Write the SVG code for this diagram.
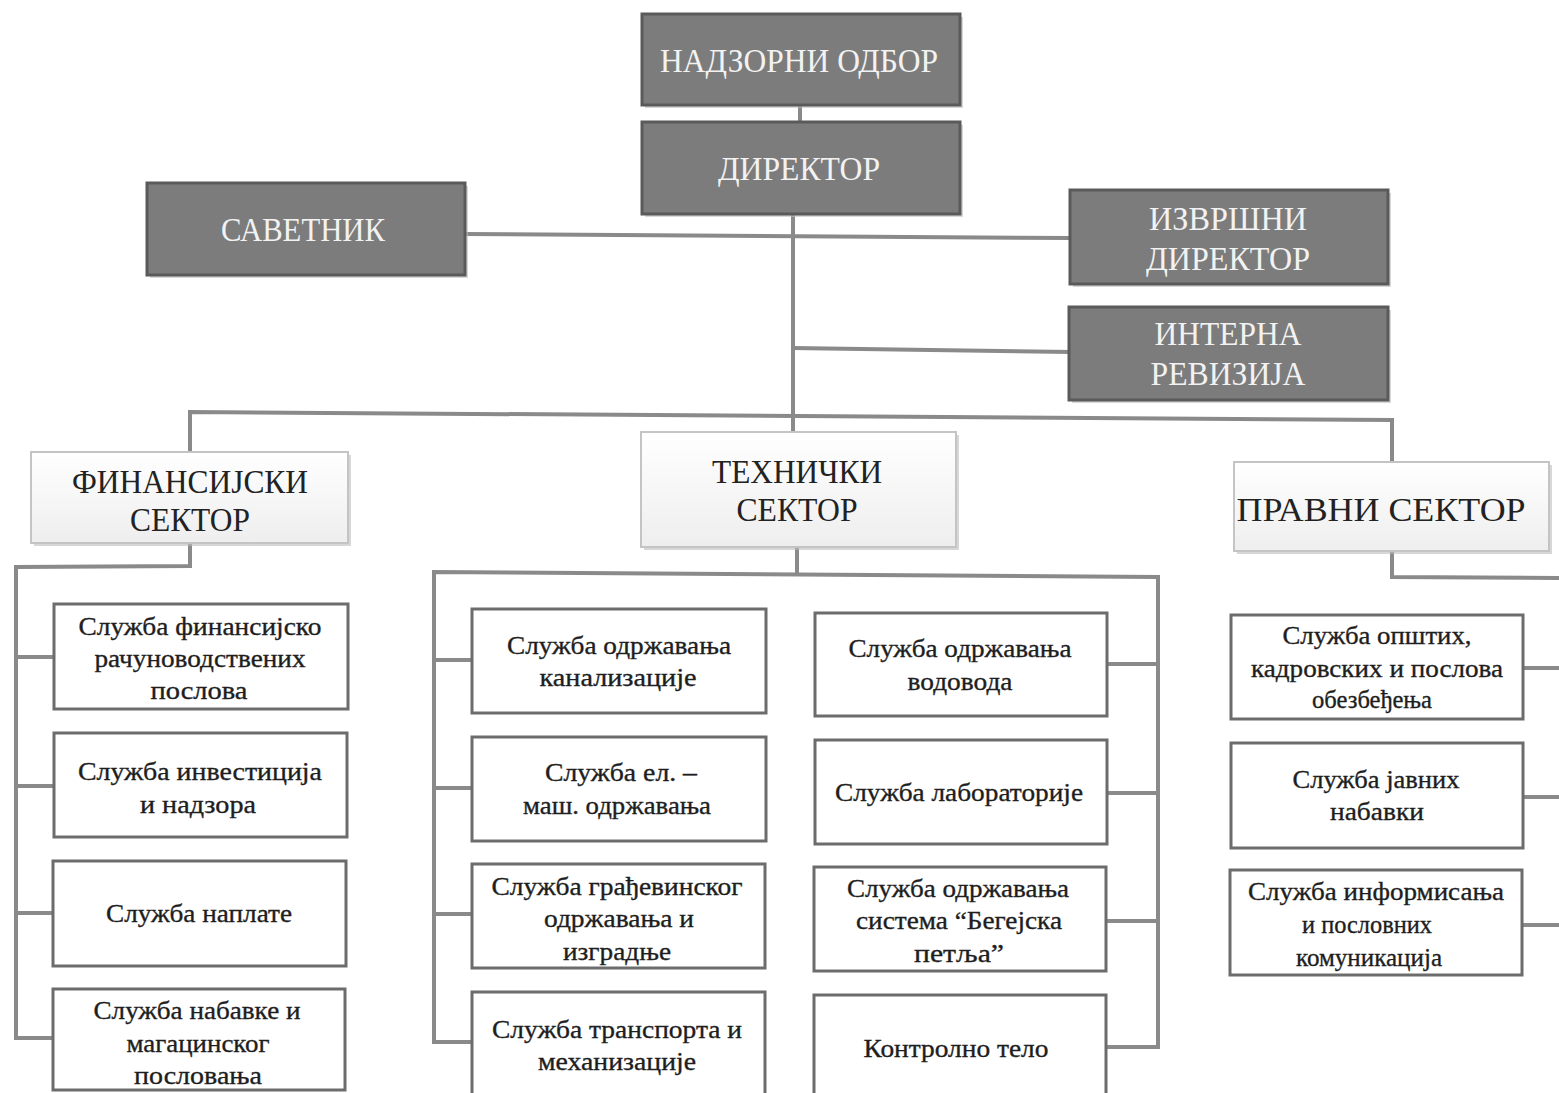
<svg xmlns="http://www.w3.org/2000/svg" width="1559" height="1093" viewBox="0 0 1559 1093">
<style>
.bg{fill:#ffffff}
.top rect.b{fill:#7c7c7c;stroke:#5a5a5a;stroke-width:3}
.top text{fill:#f2f2f2;font-family:"Liberation Serif","Times New Roman",serif;font-size:34px;text-anchor:middle}
.sec rect.b{fill:url(#secg);stroke:#c4c4c4;stroke-width:2}
.sec text{fill:#222;font-family:"Liberation Serif","Times New Roman",serif;font-size:34px;text-anchor:middle}
.svc rect.b{fill:#ffffff;stroke:#6c6c6c;stroke-width:3}
.svc text{fill:#1e1e1e;font-family:"Liberation Serif","Times New Roman",serif;font-size:26px;text-anchor:middle;stroke:#1e1e1e;stroke-width:0.35}
rect.sh{fill:#bdbdbd;opacity:0.6}
#connectors line,#connectors polyline{stroke:#8a8a8a;stroke-width:4;fill:none;stroke-linecap:square}
</style>
<defs>
<linearGradient id="secg" x1="0" y1="0" x2="0" y2="1">
<stop offset="0" stop-color="#ffffff"/>
<stop offset="1" stop-color="#eeeeee"/>
</linearGradient>
</defs>
<rect class="bg" x="0" y="0" width="1559" height="1093"/>

<g id="connectors">
<line x1="800" y1="105" x2="800" y2="122"/>
<line x1="793" y1="214" x2="793" y2="433"/>
<line x1="465" y1="234" x2="1070" y2="238"/>
<line x1="793" y1="348" x2="1069" y2="352"/>
<polyline points="190,452 190,412 1392,420 1392,462"/>
<polyline points="190,543 190,566 16,567 16,1038"/>
<line x1="16" y1="657" x2="54" y2="657"/>
<line x1="16" y1="786" x2="54" y2="786"/>
<line x1="16" y1="913" x2="53" y2="913"/>
<line x1="16" y1="1038" x2="53" y2="1038"/>
<line x1="797" y1="547" x2="797" y2="574"/>
<polyline points="434,1042 434,572 1158,577 1158,1047"/>
<line x1="434" y1="660" x2="472" y2="660"/>
<line x1="434" y1="788" x2="472" y2="788"/>
<line x1="434" y1="914" x2="472" y2="914"/>
<line x1="434" y1="1042" x2="472" y2="1042"/>
<line x1="1107" y1="664" x2="1158" y2="664"/>
<line x1="1107" y1="793" x2="1158" y2="793"/>
<line x1="1107" y1="921" x2="1158" y2="921"/>
<line x1="1107" y1="1047" x2="1158" y2="1047"/>
<polyline points="1392,551 1392,577 1561,578"/>
<line x1="1523" y1="668" x2="1561" y2="668"/>
<line x1="1523" y1="797" x2="1561" y2="797"/>
<line x1="1523" y1="925" x2="1561" y2="925"/>
</g>

<g id="nadzorni-odbor" class="top">
<rect class="sh" x="645" y="17" width="318" height="91"/>
<rect class="b" x="642" y="14" width="318" height="91"/>
<text x="799" y="72" textLength="278" lengthAdjust="spacingAndGlyphs">НАДЗОРНИ ОДБОР</text>
</g>
<g id="direktor" class="top">
<rect class="sh" x="645" y="125" width="318" height="92"/>
<rect class="b" x="642" y="122" width="318" height="92"/>
<text x="799" y="180" textLength="162" lengthAdjust="spacingAndGlyphs">ДИРЕКТОР</text>
</g>
<g id="savetnik" class="top">
<rect class="sh" x="150" y="186" width="318" height="92"/>
<rect class="b" x="147" y="183" width="318" height="92"/>
<text x="303" y="241" textLength="164" lengthAdjust="spacingAndGlyphs">САВЕТНИК</text>
</g>
<g id="izvrsni-direktor" class="top">
<rect class="sh" x="1073" y="193" width="318" height="94"/>
<rect class="b" x="1070" y="190" width="318" height="94"/>
<text x="1228" y="230" textLength="158" lengthAdjust="spacingAndGlyphs">ИЗВРШНИ</text>
<text x="1228" y="270" textLength="164" lengthAdjust="spacingAndGlyphs">ДИРЕКТОР</text>
</g>
<g id="interna-revizija" class="top">
<rect class="sh" x="1072" y="310" width="319" height="93"/>
<rect class="b" x="1069" y="307" width="319" height="93"/>
<text x="1228" y="345" textLength="147" lengthAdjust="spacingAndGlyphs">ИНТЕРНА</text>
<text x="1228" y="385" textLength="155" lengthAdjust="spacingAndGlyphs">РЕВИЗИЈА</text>
</g>

<g id="finansijski-sektor" class="sec">
<rect class="sh" x="34" y="455" width="317" height="91"/>
<rect class="b" x="31" y="452" width="317" height="91"/>
<text x="190" y="493" textLength="236" lengthAdjust="spacingAndGlyphs">ФИНАНСИЈСКИ</text>
<text x="190" y="531" textLength="120" lengthAdjust="spacingAndGlyphs">СЕКТОР</text>
</g>
<g id="tehnicki-sektor" class="sec">
<rect class="sh" x="644" y="435" width="315" height="115"/>
<rect class="b" x="641" y="432" width="315" height="115"/>
<text x="797" y="483" textLength="170" lengthAdjust="spacingAndGlyphs">ТЕХНИЧКИ</text>
<text x="797" y="521" textLength="121" lengthAdjust="spacingAndGlyphs">СЕКТОР</text>
</g>
<g id="pravni-sektor" class="sec">
<rect class="sh" x="1237" y="465" width="315" height="89"/>
<rect class="b" x="1234" y="462" width="315" height="89"/>
<text x="1381" y="521" textLength="289" lengthAdjust="spacingAndGlyphs">ПРАВНИ СЕКТОР</text>
</g>

<g id="fin-1" class="svc">
<rect class="b" x="54" y="604" width="294" height="105"/>
<text x="200" y="635" textLength="243" lengthAdjust="spacingAndGlyphs">Служба финансијско</text>
<text x="200" y="667" textLength="211" lengthAdjust="spacingAndGlyphs">рачуноводствених</text>
<text x="199" y="699" textLength="97" lengthAdjust="spacingAndGlyphs">послова</text>
</g>
<g id="fin-2" class="svc">
<rect class="b" x="54" y="733" width="293" height="104"/>
<text x="200" y="780" textLength="244" lengthAdjust="spacingAndGlyphs">Служба инвестиција</text>
<text x="198" y="813" textLength="116" lengthAdjust="spacingAndGlyphs">и надзора</text>
</g>
<g id="fin-3" class="svc">
<rect class="b" x="53" y="861" width="293" height="105"/>
<text x="199" y="922" textLength="186" lengthAdjust="spacingAndGlyphs">Служба наплате</text>
</g>
<g id="fin-4" class="svc">
<rect class="b" x="53" y="989" width="292" height="101"/>
<text x="197" y="1019" textLength="207" lengthAdjust="spacingAndGlyphs">Служба набавке и</text>
<text x="198" y="1052" textLength="143" lengthAdjust="spacingAndGlyphs">магацинског</text>
<text x="198" y="1084" textLength="128" lengthAdjust="spacingAndGlyphs">пословања</text>
</g>

<g id="teh-kanalizacija" class="svc">
<rect class="b" x="472" y="609" width="294" height="104"/>
<text x="619" y="654" textLength="224" lengthAdjust="spacingAndGlyphs">Служба одржавања</text>
<text x="618" y="686" textLength="157" lengthAdjust="spacingAndGlyphs">канализације</text>
</g>
<g id="teh-el-mas" class="svc">
<rect class="b" x="472" y="737" width="294" height="104"/>
<text x="621" y="781" textLength="152" lengthAdjust="spacingAndGlyphs">Служба ел. –</text>
<text x="617" y="814" textLength="188" lengthAdjust="spacingAndGlyphs">маш. одржавања</text>
</g>
<g id="teh-gradjevinsko" class="svc">
<rect class="b" x="472" y="864" width="293" height="104"/>
<text x="617" y="895" textLength="251" lengthAdjust="spacingAndGlyphs">Служба грађевинског</text>
<text x="619" y="927" textLength="150" lengthAdjust="spacingAndGlyphs">одржавања и</text>
<text x="617" y="960" textLength="108" lengthAdjust="spacingAndGlyphs">изградње</text>
</g>
<g id="teh-transport" class="svc">
<rect class="b" x="472" y="992" width="293" height="104"/>
<text x="617" y="1038" textLength="250" lengthAdjust="spacingAndGlyphs">Служба транспорта и</text>
<text x="617" y="1070" textLength="158" lengthAdjust="spacingAndGlyphs">механизације</text>
</g>
<g id="teh-vodovod" class="svc">
<rect class="b" x="815" y="613" width="292" height="103"/>
<text x="960" y="657" textLength="223" lengthAdjust="spacingAndGlyphs">Служба одржавања</text>
<text x="960" y="690" textLength="105" lengthAdjust="spacingAndGlyphs">водовода</text>
</g>
<g id="teh-laboratorija" class="svc">
<rect class="b" x="815" y="740" width="292" height="104"/>
<text x="959" y="801" textLength="248" lengthAdjust="spacingAndGlyphs">Служба лабораторије</text>
</g>
<g id="teh-begejska" class="svc">
<rect class="b" x="814" y="867" width="292" height="104"/>
<text x="958" y="897" textLength="222" lengthAdjust="spacingAndGlyphs">Служба одржавања</text>
<text x="959" y="929" textLength="206" lengthAdjust="spacingAndGlyphs">система “Бегејска</text>
<text x="959" y="962" textLength="90" lengthAdjust="spacingAndGlyphs">петља”</text>
</g>
<g id="teh-kontrolno" class="svc">
<rect class="b" x="814" y="995" width="292" height="101"/>
<text x="956" y="1057" textLength="185" lengthAdjust="spacingAndGlyphs">Контролно тело</text>
</g>

<g id="prav-opsti" class="svc">
<rect class="b" x="1231" y="615" width="292" height="104"/>
<text x="1377" y="644" textLength="189" lengthAdjust="spacingAndGlyphs">Служба општих,</text>
<text x="1377" y="677" textLength="252" lengthAdjust="spacingAndGlyphs">кадровских и послова</text>
<text x="1372" y="708" textLength="120" lengthAdjust="spacingAndGlyphs">обезбеђења</text>
</g>
<g id="prav-javne-nabavke" class="svc">
<rect class="b" x="1231" y="743" width="292" height="105"/>
<text x="1376" y="788" textLength="167" lengthAdjust="spacingAndGlyphs">Служба јавних</text>
<text x="1377" y="820" textLength="94" lengthAdjust="spacingAndGlyphs">набавки</text>
</g>
<g id="prav-informisanje" class="svc">
<rect class="b" x="1230" y="870" width="292" height="105"/>
<text x="1376" y="900" textLength="256" lengthAdjust="spacingAndGlyphs">Служба информисања</text>
<text x="1367" y="933" textLength="130" lengthAdjust="spacingAndGlyphs">и пословних</text>
<text x="1369" y="966" textLength="146" lengthAdjust="spacingAndGlyphs">комуникација</text>
</g>
</svg>
